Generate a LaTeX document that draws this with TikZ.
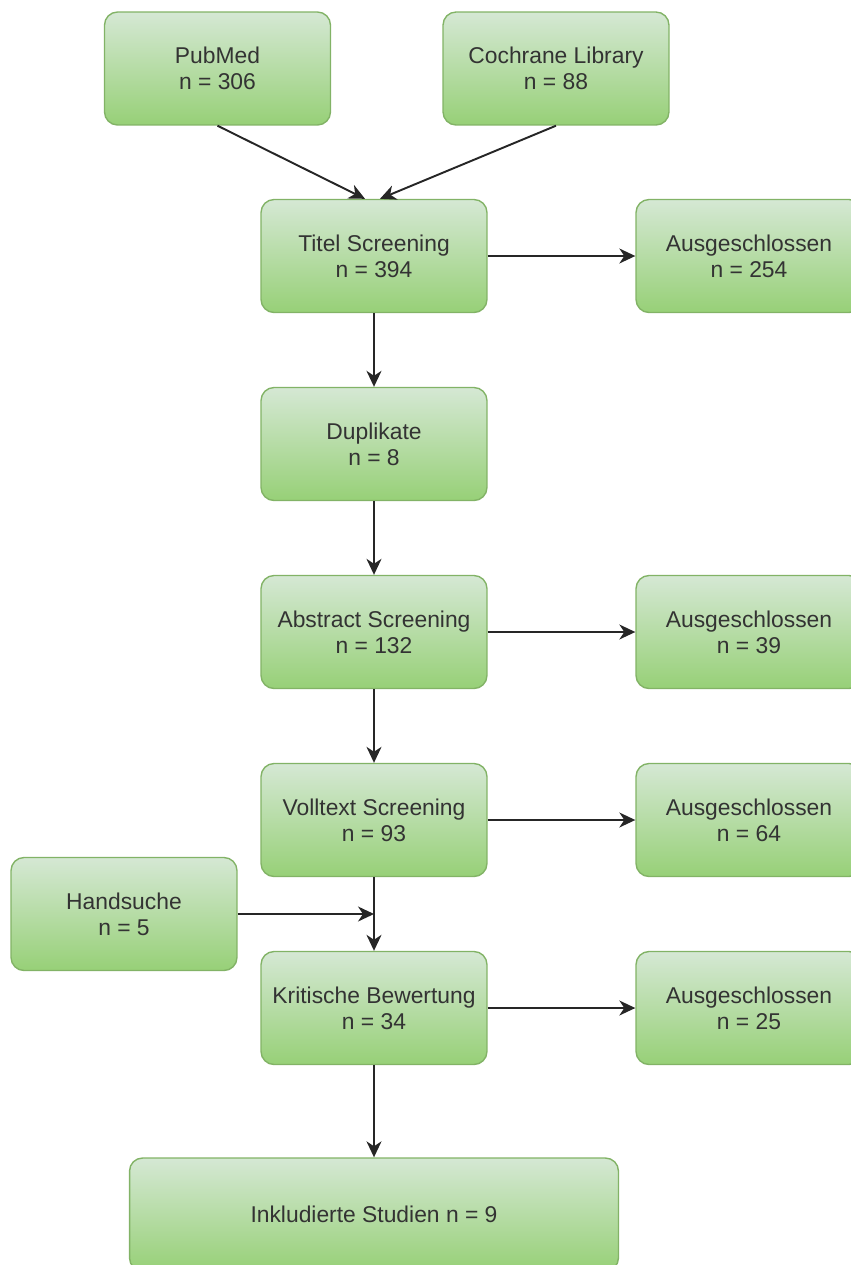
\documentclass[tikz,border=0pt]{standalone}
\usepackage{fontspec}
\setmainfont{Liberation Sans}
\usepackage{xcolor}
\usetikzlibrary{arrows.meta}
\definecolor{boxtop}{HTML}{D5E8D4}
\definecolor{boxbottom}{HTML}{97D077}
\definecolor{boxline}{HTML}{82B366}
\definecolor{boxtext}{HTML}{333333}

\begin{document}
\begin{tikzpicture}[x=0.02cm, y=-0.02cm, >={Stealth[length=3.2mm,width=3mm,inset=1mm]},
    box/.style={draw=boxline, line width=0.8pt, rounded corners=0.26cm,
      top color=boxtop, bottom color=boxbottom, text=boxtext, align=center,
      minimum width=4.52cm, minimum height=2.26cm, inner sep=0pt,
      font=\fontsize{13}{14.8}\selectfont},
    flow/.style={->, line width=1.1pt, draw=black!85}]
      \pgfmathsetmacro{\cmid}{374}
      \pgfmathsetmacro{\cout}{749}
      \useasboundingbox (0,0) rectangle (851,1265);
      \clip (0,0) rectangle (851,1265);

      \node[box] (pubmed) at (217.5,68.5) {PubMed\\n = 306};
      \node[box] (cochrane) at (556,68.5) {Cochrane Library\\n = 88};
      \node[box] (titel) at (\cmid,256) {Titel Screening\\n = 394};
      \node[box] (aus1) at (\cout,256) {Ausgeschlossen\\n = 254};
      \node[box] (dupl) at (\cmid,444) {Duplikate\\n = 8};
      \node[box] (abstract) at (\cmid,632) {Abstract Screening\\n = 132};
      \node[box] (aus2) at (\cout,632) {Ausgeschlossen\\n = 39};
      \node[box] (volltext) at (\cmid,820) {Volltext Screening\\n = 93};
      \node[box] (aus3) at (\cout,820) {Ausgeschlossen\\n = 64};
      \node[box] (hand) at (124,914) {Handsuche\\n = 5};
      \node[box] (kritisch) at (\cmid,1008) {Kritische Bewertung\\n = 34};
      \node[box] (aus4) at (\cout,1008) {Ausgeschlossen\\n = 25};
      \node[box, minimum width=9.78cm] (inkl) at (\cmid,1214.5) {Inkludierte Studien n = 9};

      \draw[flow] (pubmed.south) -- ([xshift=-0.18cm]titel.north);
      \draw[flow] (cochrane.south) -- ([xshift=0.12cm]titel.north);
      \draw[flow] (titel) -- (aus1);
      \draw[flow] (titel) -- (dupl);
      \draw[flow] (dupl) -- (abstract);
      \draw[flow] (abstract) -- (aus2);
      \draw[flow] (abstract) -- (volltext);
      \draw[flow] (volltext) -- (aus3);
      \draw[flow] (volltext) -- (kritisch);
      \draw[flow] (hand.east) -- (hand.east -| volltext.south);
      \draw[flow] (kritisch) -- (aus4);
      \draw[flow] (kritisch) -- (kritisch |- inkl.north);
    \end{tikzpicture}
\end{document}
